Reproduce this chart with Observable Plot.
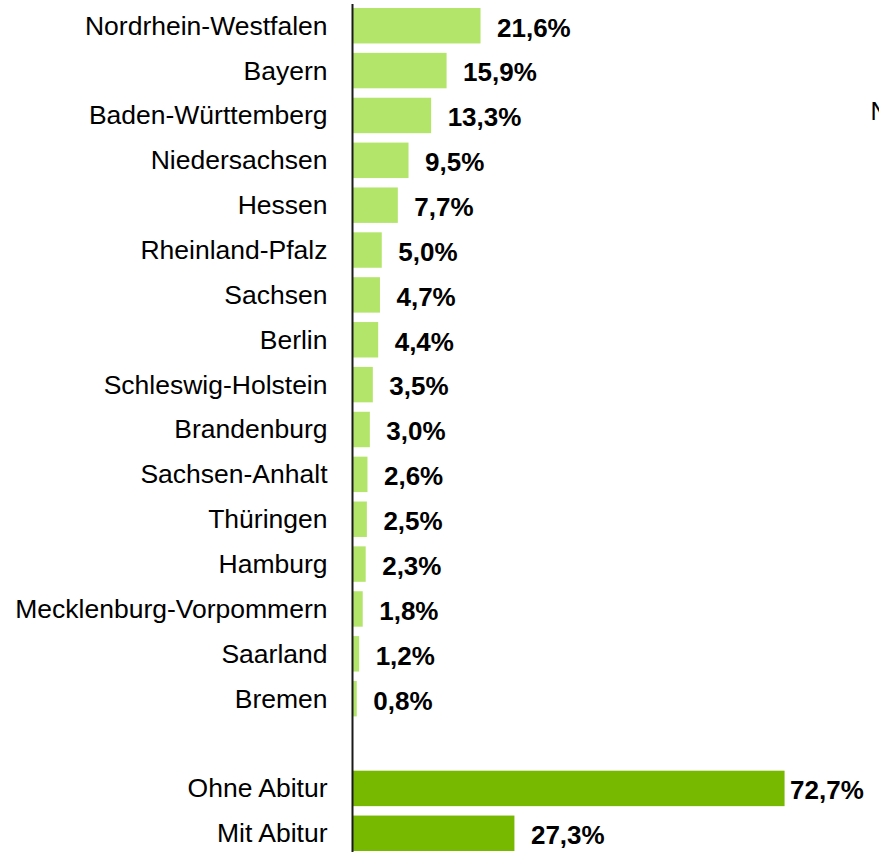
<!DOCTYPE html>
<html><head><meta charset="utf-8">
<script src="https://cdn.jsdelivr.net/npm/d3@7"></script>
<script src="https://cdn.jsdelivr.net/npm/@observablehq/plot@0.6"></script>
<style>html,body{margin:0;padding:0;background:#fff;overflow:hidden}</style>
</head><body><div id="chart"></div>
<script>
const states = ["Nordrhein-Westfalen","Bayern","Baden-Württemberg","Niedersachsen","Hessen","Rheinland-Pfalz","Sachsen","Berlin","Schleswig-Holstein","Brandenburg","Sachsen-Anhalt","Thüringen","Hamburg","Mecklenburg-Vorpommern","Saarland","Bremen"];
const stateValues = [21.6,15.9,13.3,9.5,7.7,5.0,4.7,4.4,3.5,3.0,2.6,2.5,2.3,1.8,1.2,0.8];
const abiturCats = ["Ohne Abitur","Mit Abitur"];
const abiturValues = [72.7,27.3];
const spacer = " ";

const data = [
  ...states.map((c,i)=>({cat:c, value:stateValues[i], group:"land"})),
  ...abiturCats.map((c,i)=>({cat:c, value:abiturValues[i], group:"abitur"}))
];
const domainY = [...states, spacer, ...abiturCats];
const fmt = v => v.toFixed(1).replace(".", ",") + "%";
const isWide = d => d.cat === "Ohne Abitur";

const chart = Plot.plot({
  width: 879, height: 852,
  marginLeft: 352, marginRight: 51, marginTop: 8, marginBottom: 1,
  style: {fontFamily: "'Liberation Sans', Arial, sans-serif", background: "#fff", overflow: "hidden"},
  x: {domain: [0, 80], axis: null},
  y: {domain: domainY, paddingInner: 0.21, paddingOuter: 0, round: false, axis: null},
  color: {domain: ["land","abitur"], range: ["#b3e56b","#77b800"]},
  marks: [
    Plot.barX(data, {x: "value", y: "cat", fill: "group"}),
    Plot.text(data, {x: 0, y: "cat", text: "cat", textAnchor: "end", dx: -25, fontSize: 26.5, fill: "#000"}),
    Plot.text(data, {filter: d => !isWide(d), x: "value", y: "cat", text: d => fmt(d.value), textAnchor: "start", dx: 16, dy: 2, fontSize: 26, fontWeight: "bold", fill: "#000"}),
    Plot.text(data, {filter: isWide, x: "value", y: "cat", text: d => fmt(d.value), textAnchor: "start", dx: 5, dy: 2, fontSize: 26, fontWeight: "bold", fill: "#000"}),
    Plot.ruleX([0], {stroke: "#1a1a1a", strokeWidth: 2, insetTop: -4, insetBottom: -4}),
    Plot.text(["N"], {frameAnchor: "top-right", dx: 42, dy: 103, lineAnchor: "middle", textAnchor: "start", fontSize: 25, fill: "#000"})
  ]
});
document.getElementById("chart").append(chart);
</script></body></html>
